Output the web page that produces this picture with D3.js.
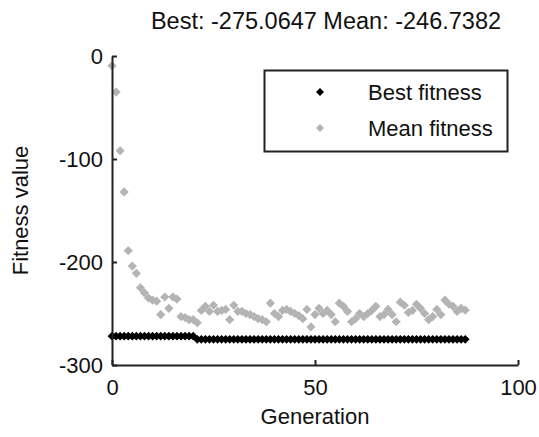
<!DOCTYPE html>
<html>
<head>
<meta charset="utf-8">
<script src="https://cdn.jsdelivr.net/npm/d3@7"></script>
<style>
  body { margin: 0; background: #fff; }
  text { font-family: "Liberation Sans", Arial, sans-serif; fill: #111; }
</style>
</head>
<body>
<div id="chart"></div>
<script>
// GA fitness plot: best and mean fitness per generation

var generations = d3.range(0, 88);
var bestFitness = generations.map(function(g){ return g <= 20 ? -272.0 : -275.0647; });
var meanFitness = [
  -9.4, -35, -92, -132, -189, -204, -211, -225, -230, -235,
  -237, -238, -251, -234, -245, -234, -236, -253, -254, -256,
  -256, -259, -247, -243, -248, -242, -248, -247, -246, -256,
  -242, -248, -248, -250, -251, -253, -255, -256, -258, -240,
  -250, -253, -247, -246, -248, -250, -252, -255, -246, -263,
  -251, -245, -250, -247, -251, -258, -240, -243, -248, -258,
  -255, -250, -253, -250, -247, -243, -253, -251, -246, -251,
  -258, -239, -242, -249, -247, -241, -245, -250, -256, -253,
  -246, -251, -237, -241, -243, -248, -245, -246.7382
];
var xTicks = [0, 50, 100];
var yTicks = [0, -100, -200, -300];
var seriesNames = ["Best fitness", "Mean fitness"];
var seriesColors = ["#000000", "#b4b4b4"];
var titleText = "Best: -275.0647 Mean: -246.7382";

var width = 539, height = 437;
var svg = d3.select("#chart").append("svg")
    .attr("width", width).attr("height", height);
svg.append("rect").attr("width", width).attr("height", height).attr("fill", "#fff");

var x = d3.scaleLinear().domain([0, 100]).range([112, 518]);
var y = d3.scaleLinear().domain([-300, 0]).range([365, 56]);

// diamond marker path
function diamond(r) {
  return "M0," + (-r) + "L" + r + ",0L0," + r + "L" + (-r) + ",0Z";
}

// mean points (drawn first, best on top)
svg.append("g").selectAll("path").data(meanFitness).enter().append("path")
    .attr("d", diamond(4.6))
    .attr("transform", function(d, i){ return "translate(" + x(generations[i]) + "," + y(d) + ")"; })
    .attr("fill", seriesColors[1]);

svg.append("g").selectAll("path").data(bestFitness).enter().append("path")
    .attr("d", diamond(4.4))
    .attr("transform", function(d, i){ return "translate(" + x(generations[i]) + "," + y(d) + ")"; })
    .attr("fill", seriesColors[0]);

// axes, ticks inward, plain hyphen minus like the source
var fmt = function(d){ return String(d); };
var xAxis = svg.append("g").attr("transform", "translate(0," + y(-300) + ")")
    .call(d3.axisBottom(x).tickValues(xTicks).tickFormat(fmt).tickSizeInner(-5).tickSizeOuter(0).tickPadding(10));
var yAxis = svg.append("g").attr("transform", "translate(" + x(0) + ",0)")
    .call(d3.axisLeft(y).tickValues(yTicks).tickFormat(fmt).tickSizeInner(-5).tickSizeOuter(0).tickPadding(9));

[xAxis, yAxis].forEach(function(a){
  a.select(".domain").attr("stroke", "#222").attr("stroke-width", 2);
  a.selectAll(".tick line").attr("stroke", "#222").attr("stroke-width", 2);
  a.selectAll(".tick text").attr("font-size", 22).attr("fill", "#111")
    .style("font-family", "'Liberation Sans', Arial, sans-serif");
});
xAxis.selectAll(".tick text").attr("dy", "0.9em");

// labels
svg.append("text").attr("x", 326).attr("y", 29).attr("text-anchor", "middle")
    .attr("font-size", 23.5).text(titleText);
svg.append("text").attr("x", x(50)).attr("y", 424).attr("text-anchor", "middle")
    .attr("font-size", 22).text("Generation");
svg.append("text").attr("transform", "translate(28," + ((y(0) + y(-300)) / 2) + ") rotate(-90)")
    .attr("text-anchor", "middle").attr("font-size", 22).text("Fitness value");

// legend
var legend = svg.append("g");
legend.append("rect").attr("x", 264.5).attr("y", 70.5).attr("width", 243).attr("height", 81)
    .attr("fill", "#fff").attr("stroke", "#222").attr("stroke-width", 2);
var items = legend.selectAll(".legends").data(seriesNames).enter().append("g")
    .classed("legends", true)
    .attr("transform", function(d, i){ return "translate(0," + (92 + i * 36) + ")"; });
items.append("path").attr("d", diamond(4))
    .attr("transform", "translate(320,0)")
    .attr("fill", function(d, i){ return seriesColors[i]; });
items.append("text").attr("x", 368).attr("y", 8).attr("font-size", 22)
    .text(function(d){ return d; });
</script>
</body>
</html>
